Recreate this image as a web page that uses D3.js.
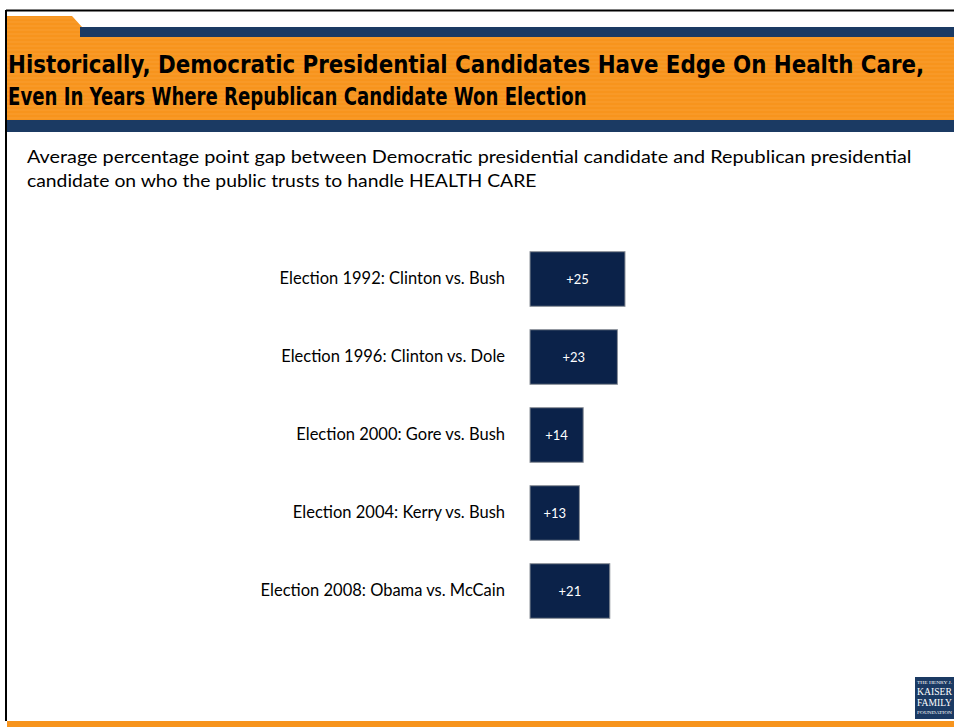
<!DOCTYPE html>
<html><head><meta charset="utf-8">
<script src="https://cdn.jsdelivr.net/npm/d3@7"></script>
<style>body{margin:0;background:#fff;}svg{display:block;}</style>
</head><body>
<script>
const categories = ["Election 1992: Clinton vs. Bush","Election 1996: Clinton vs. Dole","Election 2000: Gore vs. Bush","Election 2004: Kerry vs. Bush","Election 2008: Obama vs. McCain"];
const gaps = [25, 23, 14, 13, 21];
const valueLabels = ["+25","+23","+14","+13","+21"];
const titleLines = ["Historically, Democratic Presidential Candidates Have Edge On Health Care,","Even In Years Where Republican Candidate Won Election"];
const subtitleLines = ["Average percentage point gap between Democratic presidential candidate and Republican presidential","candidate on who the public trusts to handle HEALTH CARE"];

const W=954,H=727;
const svg=d3.select("body").append("svg").attr("width",W).attr("height",H);
const orange="#f7941d", navy="#1b3a63";
const bodyFont="Lato, 'Open Sans', sans-serif";

// frame
svg.append("line").attr("x1",6).attr("x2",W).attr("y1",10.5).attr("y2",10.5).attr("stroke","#000").attr("stroke-width",2);
svg.append("line").attr("x1",6).attr("x2",6).attr("y1",10).attr("y2",721).attr("stroke","#000").attr("stroke-width",2);

// header
const hdr=`M7,16 L72,16 L82,27 L${W},27 L${W},120 L7,120 Z`;
svg.append("clipPath").attr("id","hc").append("path").attr("d",hdr);
svg.append("path").attr("d",hdr).attr("fill",orange);
const st=svg.append("g").attr("clip-path","url(#hc)");
for(let y=18;y<120;y+=4){st.append("line").attr("x1",7).attr("x2",W).attr("y1",y).attr("y2",y).attr("stroke","#fbb255").attr("stroke-opacity",0.35).attr("stroke-width",1);}
svg.append("rect").attr("x",80).attr("y",27).attr("width",W-80).attr("height",10).attr("fill",navy);
svg.append("rect").attr("x",7).attr("y",120).attr("width",W-7).attr("height",12).attr("fill",navy);
svg.append("rect").attr("x",7).attr("y",721).attr("width",W-7).attr("height",6).attr("fill",orange);

// horizontally-scaled condensed title (keeps real bbox inside the page)
const tl=[{t:titleLines[0],y:73,len:917},{t:titleLines[1],y:105,len:579}];
tl.forEach(d=>{
  const gg=svg.append("g");
  const t=gg.append("text").attr("x",0).attr("y",0).text(d.t)
    .attr("font-family","'Liberation Sans Narrow','DejaVu Sans Condensed', sans-serif").attr("font-stretch","condensed").attr("font-weight","bold").attr("font-size",25).attr("fill","#000");
  const w=t.node().getComputedTextLength();
  gg.attr("transform",`translate(8,${d.y}) scale(${d.len/w},1)`);
});

const sl=[{t:subtitleLines[0],y:163,len:885},{t:subtitleLines[1],y:187,len:510}];
sl.forEach(d=>{
  const gg=svg.append("g");
  const t=gg.append("text").attr("x",0).attr("y",0).text(d.t)
    .attr("font-family",bodyFont).attr("font-size",17).attr("fill","#000");
  const w=t.node().getComputedTextLength();
  gg.attr("transform",`translate(27,${d.y}) scale(${d.len/w},1)`);
});

// chart
const x=d3.scaleLinear().domain([0,25]).range([530,625]);
const y=d3.scaleBand().domain(categories).range([240,630]).paddingInner(0.3).paddingOuter(0.15);
const g=svg.append("g");
g.selectAll("rect.bar").data(categories).join("rect").attr("class","bar")
  .attr("x",x(0)).attr("y",d=>y(d)).attr("width",(d,i)=>x(gaps[i])-x(0)).attr("height",y.bandwidth())
  .attr("fill","#0b2249").attr("stroke","#8a8f98").attr("stroke-width",1);
g.selectAll("text.val").data(categories).join("text").attr("class","val")
  .attr("x",(d,i)=>(x(0)+x(gaps[i]))/2).attr("y",d=>y(d)+y.bandwidth()/2).attr("dy","0.35em")
  .attr("text-anchor","middle").attr("fill","#fff").attr("font-family",bodyFont).attr("font-size",13)
  .text((d,i)=>valueLabels[i]);
const yAxis=d3.axisLeft(y).tickSize(0).tickPadding(0);
const ax=svg.append("g").attr("transform","translate(505,0)").call(yAxis);
ax.select(".domain").remove();
ax.selectAll("text").attr("font-family",bodyFont).attr("font-size",16.5).attr("fill","#000");

// logo
const lg=svg.append("g").attr("transform","translate(915,677)");
lg.append("rect").attr("width",39).attr("height",42).attr("fill",navy);
[["THE HENRY J.",7,5],["KAISER",18,10],["FAMILY",29,10],["FOUNDATION",37,4.5]].forEach(([t,yy,fs])=>
  lg.append("text").attr("x",2).attr("y",yy).text(t).attr("fill","#fff").attr("font-family","'Liberation Serif', serif").attr("font-size",fs)
  .attr("textLength",35).attr("lengthAdjust","spacingAndGlyphs"));
</script>
</body></html>
